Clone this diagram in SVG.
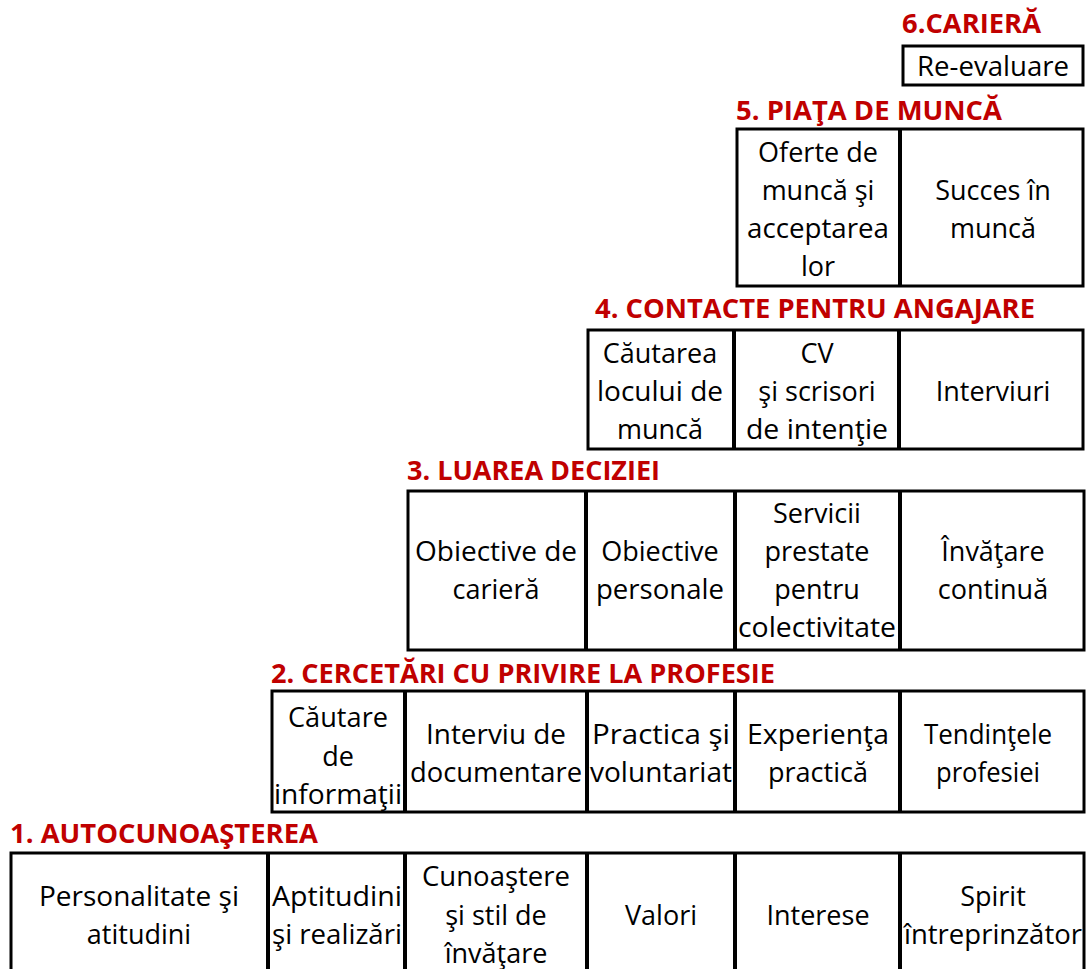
<svg xmlns="http://www.w3.org/2000/svg" width="1088" height="969" viewBox="0 0 1088 969">
<style>
.bg{fill:#ffffff}
.h{font-family:"Open Sans","Liberation Sans",sans-serif;font-weight:bold;font-size:26px;fill:#c00000}
.t{font-family:"Open Sans","Liberation Sans",sans-serif;font-size:27px;fill:#000000;text-anchor:middle}
.box{fill:#ffffff;stroke:#000000;stroke-width:3}
.div{stroke:#000000;stroke-width:4}
</style>
<rect class="bg" x="0" y="0" width="1088" height="969"/>

<g id="row6">
<text class="h" x="902" y="33" textLength="139" lengthAdjust="spacingAndGlyphs">6.CARIERĂ</text>
<g id="re-evaluare">
<rect class="box" x="903" y="46" width="180" height="39" stroke-width="2.5"/>
<text class="t" x="993" y="76" textLength="152" lengthAdjust="spacingAndGlyphs">Re-evaluare</text>
</g>
</g>

<g id="row5">
<text class="h" x="736" y="120" textLength="266" lengthAdjust="spacingAndGlyphs">5. PIAŢA DE MUNCĂ</text>
<rect class="box" x="737" y="129" width="346" height="157"/>
<line class="div" x1="900" y1="129" x2="900" y2="286"/>
<g id="oferte">
<text class="t" x="818" y="162">Oferte de</text>
<text class="t" x="818" y="200">muncă şi</text>
<text class="t" x="818" y="238" textLength="142" lengthAdjust="spacingAndGlyphs">acceptarea</text>
<text class="t" x="818" y="276">lor</text>
</g>
<g id="succes">
<text class="t" x="993" y="200">Succes în</text>
<text class="t" x="993" y="238">muncă</text>
</g>
</g>

<g id="row4">
<text class="h" x="595" y="318" textLength="440" lengthAdjust="spacingAndGlyphs">4. CONTACTE PENTRU ANGAJARE</text>
<rect class="box" x="588" y="330" width="495" height="119"/>
<line class="div" x1="734" y1="330" x2="734" y2="449"/>
<line class="div" x1="899" y1="330" x2="899" y2="449"/>
<g id="cautarea-locului">
<text class="t" x="660" y="363">Căutarea</text>
<text class="t" x="660" y="401" textLength="126" lengthAdjust="spacingAndGlyphs">locului de</text>
<text class="t" x="660" y="439">muncă</text>
</g>
<g id="cv">
<text class="t" x="817" y="363">CV</text>
<text class="t" x="817" y="401">şi scrisori</text>
<text class="t" x="817" y="439" textLength="142" lengthAdjust="spacingAndGlyphs">de intenţie</text>
</g>
<g id="interviuri">
<text class="t" x="993" y="401">Interviuri</text>
</g>
</g>

<g id="row3">
<text class="h" x="407" y="480" textLength="253" lengthAdjust="spacingAndGlyphs">3. LUAREA DECIZIEI</text>
<rect class="box" x="408" y="491" width="676" height="159"/>
<line class="div" x1="586" y1="491" x2="586" y2="650"/>
<line class="div" x1="735" y1="491" x2="735" y2="650"/>
<line class="div" x1="900" y1="491" x2="900" y2="650"/>
<g id="obiective-cariera">
<text class="t" x="496" y="561" textLength="162" lengthAdjust="spacingAndGlyphs">Obiective de</text>
<text class="t" x="496" y="599">carieră</text>
</g>
<g id="obiective-personale">
<text class="t" x="660" y="561">Obiective</text>
<text class="t" x="660" y="599" textLength="128" lengthAdjust="spacingAndGlyphs">personale</text>
</g>
<g id="servicii">
<text class="t" x="817" y="523">Servicii</text>
<text class="t" x="817" y="561">prestate</text>
<text class="t" x="817" y="599">pentru</text>
<text class="t" x="817" y="637" textLength="158" lengthAdjust="spacingAndGlyphs">colectivitate</text>
</g>
<g id="invatare-continua">
<text class="t" x="993" y="561">Învăţare</text>
<text class="t" x="993" y="599">continuă</text>
</g>
</g>

<g id="row2">
<text class="h" x="271" y="683" textLength="504" lengthAdjust="spacingAndGlyphs">2. CERCETĂRI CU PRIVIRE LA PROFESIE</text>
<rect class="box" x="272" y="691" width="812" height="121"/>
<line class="div" x1="405" y1="691" x2="405" y2="812"/>
<line class="div" x1="587" y1="691" x2="587" y2="812"/>
<line class="div" x1="735" y1="691" x2="735" y2="812"/>
<line class="div" x1="900" y1="691" x2="900" y2="812"/>
<g id="cautare-informatii">
<text class="t" x="338" y="727" textLength="100" lengthAdjust="spacingAndGlyphs">Căutare</text>
<text class="t" x="338" y="766">de</text>
<text class="t" x="338" y="804" textLength="128" lengthAdjust="spacingAndGlyphs">informaţii</text>
</g>
<g id="interviu-documentare">
<text class="t" x="496" y="744" textLength="140" lengthAdjust="spacingAndGlyphs">Interviu de</text>
<text class="t" x="496" y="782" textLength="172" lengthAdjust="spacingAndGlyphs">documentare</text>
</g>
<g id="practica-voluntariat">
<text class="t" x="661" y="744" textLength="138" lengthAdjust="spacingAndGlyphs">Practica şi</text>
<text class="t" x="661" y="782" textLength="142" lengthAdjust="spacingAndGlyphs">voluntariat</text>
</g>
<g id="experienta-practica">
<text class="t" x="818" y="744" textLength="142" lengthAdjust="spacingAndGlyphs">Experienţa</text>
<text class="t" x="818" y="782" textLength="100" lengthAdjust="spacingAndGlyphs">practică</text>
</g>
<g id="tendintele-profesiei">
<text class="t" x="988" y="744" textLength="128" lengthAdjust="spacingAndGlyphs">Tendinţele</text>
<text class="t" x="988" y="782" textLength="104" lengthAdjust="spacingAndGlyphs">profesiei</text>
</g>
</g>

<g id="row1">
<text class="h" x="10" y="843" textLength="308" lengthAdjust="spacingAndGlyphs">1. AUTOCUNOAŞTEREA</text>
<rect class="box" x="11" y="853" width="1073" height="130"/>
<line class="div" x1="268" y1="853" x2="268" y2="969"/>
<line class="div" x1="405" y1="853" x2="405" y2="969"/>
<line class="div" x1="587" y1="853" x2="587" y2="969"/>
<line class="div" x1="735" y1="853" x2="735" y2="969"/>
<line class="div" x1="900" y1="853" x2="900" y2="969"/>
<g id="personalitate">
<text class="t" x="139" y="906" textLength="200" lengthAdjust="spacingAndGlyphs">Personalitate şi</text>
<text class="t" x="139" y="944">atitudini</text>
</g>
<g id="aptitudini">
<text class="t" x="337" y="906" textLength="130" lengthAdjust="spacingAndGlyphs">Aptitudini</text>
<text class="t" x="337" y="944" textLength="130" lengthAdjust="spacingAndGlyphs">şi realizări</text>
</g>
<g id="cunoastere">
<text class="t" x="496" y="886" textLength="148" lengthAdjust="spacingAndGlyphs">Cunoaştere</text>
<text class="t" x="496" y="925">şi stil de</text>
<text class="t" x="496" y="963">învăţare</text>
</g>
<g id="valori">
<text class="t" x="661" y="925">Valori</text>
</g>
<g id="interese">
<text class="t" x="818" y="925">Interese</text>
</g>
<g id="spirit">
<text class="t" x="993" y="906">Spirit</text>
<text class="t" x="993" y="944" textLength="178" lengthAdjust="spacingAndGlyphs">întreprinzător</text>
</g>
</g>
</svg>
